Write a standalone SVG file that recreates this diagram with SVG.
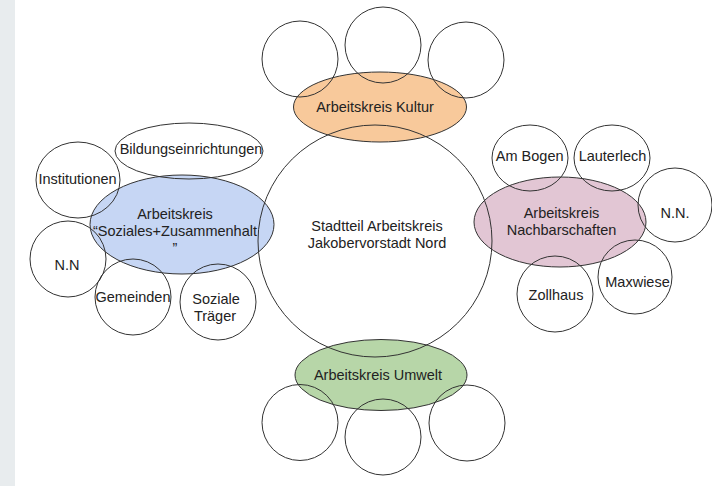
<svg xmlns="http://www.w3.org/2000/svg" width="712" height="486" viewBox="0 0 712 486">
<style>
.o{fill:none;stroke:#333;stroke-width:1}
.f{stroke:#333;stroke-width:1}
text{font-family:"Liberation Sans",Arial,sans-serif;font-size:14.5px;fill:#222;text-anchor:middle}
</style>
<rect x="0" y="0" width="712" height="486" fill="#ffffff"/>
<rect x="0" y="0" width="15" height="486" fill="#e8ecee"/>
<g id="fills">
<ellipse class="f" cx="380" cy="107" rx="86.5" ry="35" fill="#f8c99b"/>
<ellipse class="f" cx="182" cy="224.5" rx="92" ry="49.5" fill="#c6d6f4"/>
<ellipse class="f" cx="560" cy="222" rx="86" ry="45" fill="#e2c6d4"/>
<ellipse class="f" cx="381" cy="375" rx="86" ry="35.5" fill="#b7d6a8"/>
</g>
<g id="main"><ellipse class="o" cx="375" cy="241" rx="117" ry="116"/><text x="377" y="231">Stadtteil Arbeitskreis</text><text x="377" y="248">Jakobervorstadt Nord</text></g>
<g id="kultur"><text x="375" y="111.5">Arbeitskreis Kultur</text></g>
<g id="kultur-1"><circle class="o" cx="300" cy="59" r="38"/></g>
<g id="kultur-2"><circle class="o" cx="383" cy="45" r="38"/></g>
<g id="kultur-3"><circle class="o" cx="466" cy="60" r="38"/></g>
<g id="soziales"><text x="175" y="219">Arbeitskreis</text><text x="175" y="236">“Soziales+Zusammenhalt</text><text x="175" y="253">”</text></g>
<g id="bildung"><ellipse class="o" cx="189" cy="151" rx="74" ry="28"/><text x="191" y="153.5">Bildungseinrichtungen</text></g>
<g id="institutionen"><ellipse class="o" cx="78" cy="180" rx="42" ry="38"/><text x="77.5" y="184">Institutionen</text></g>
<g id="nn-left"><circle class="o" cx="68" cy="259" r="38"/><text x="67" y="269.5">N.N</text></g>
<g id="gemeinden"><circle class="o" cx="133" cy="297" r="38"/><text x="133" y="302">Gemeinden</text></g>
<g id="traeger"><circle class="o" cx="218" cy="302" r="38"/><text x="216" y="304">Soziale</text><text x="215" y="321">Träger</text></g>
<g id="nachbarschaften"><text x="561.5" y="218">Arbeitskreis</text><text x="561.5" y="235">Nachbarschaften</text></g>
<g id="ambogen"><ellipse class="o" cx="530" cy="158" rx="38" ry="33"/><text x="529.7" y="161">Am Bogen</text></g>
<g id="lauterlech"><ellipse class="o" cx="612" cy="158" rx="38" ry="33"/><text x="612.5" y="161">Lauterlech</text></g>
<g id="nn-right"><circle class="o" cx="675" cy="205" r="37"/><text x="675" y="218">N.N.</text></g>
<g id="zollhaus"><circle class="o" cx="555" cy="294" r="38"/><text x="556" y="300">Zollhaus</text></g>
<g id="maxwiese"><circle class="o" cx="635" cy="277" r="37"/><text x="637.5" y="287">Maxwiese</text></g>
<g id="umwelt"><text x="378" y="380">Arbeitskreis Umwelt</text></g>
<g id="umwelt-1"><circle class="o" cx="300" cy="422.5" r="38"/></g>
<g id="umwelt-2"><circle class="o" cx="383" cy="437" r="38"/></g>
<g id="umwelt-3"><circle class="o" cx="467" cy="423" r="38"/></g>
</svg>
